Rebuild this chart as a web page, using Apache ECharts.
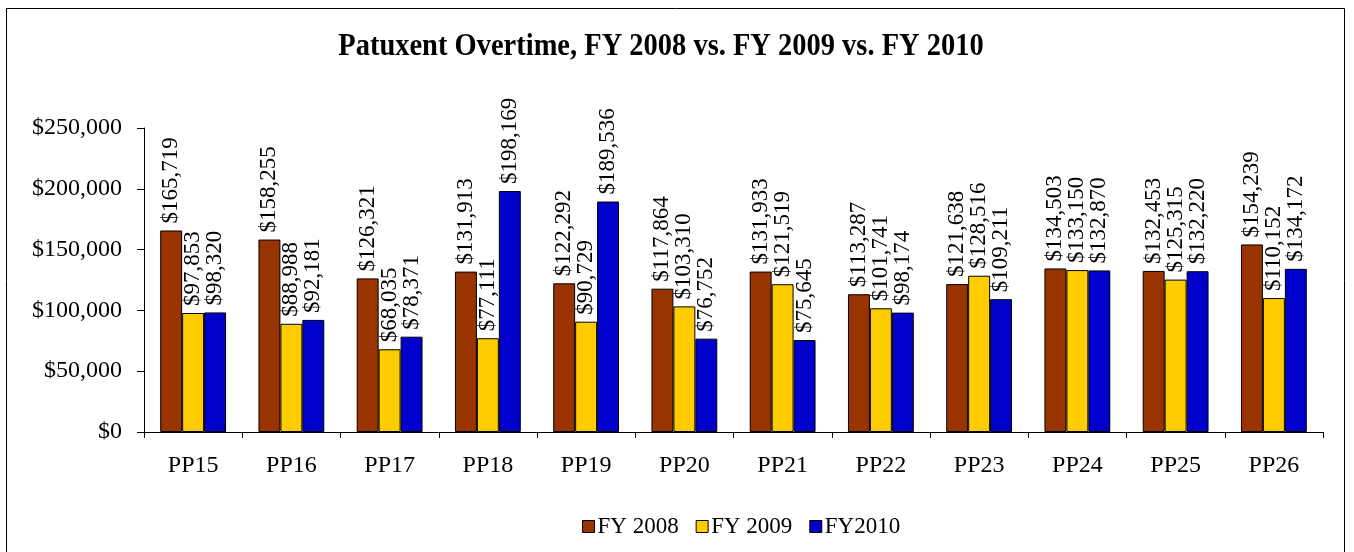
<!DOCTYPE html>
<html>
<head>
<meta charset="utf-8">
<script src="https://cdn.jsdelivr.net/npm/echarts@6/dist/echarts.min.js"></script>
<style>
  html, body { margin: 0; padding: 0; background: #fff; }
  #chart { width: 1354px; height: 552px; }
</style>
</head>
<body>
<div id="chart"></div>
<script>
  var categories = ['PP15', 'PP16', 'PP17', 'PP18', 'PP19', 'PP20', 'PP21', 'PP22', 'PP23', 'PP24', 'PP25', 'PP26']
  var fy2008 = [165719, 158255, 126321, 131913, 122292, 117864, 131933, 113287, 121638, 134503, 132453, 154239]
  var fy2009 = [97853, 88988, 68035, 77111, 90729, 103310, 121519, 101741, 128516, 133150, 125315, 110152]
  var fy2010 = [98320, 92181, 78371, 198169, 189536, 76752, 75645, 98174, 109211, 132870, 132220, 134172]

  var font = '"Liberation Serif", "Times New Roman", serif'

  function money(v) {
    return '$' + Math.round(v).toString().replace(/\B(?=(\d{3})+(?!\d))/g, ',')
  }

  function barSeries(name, data, color) {
    return {
      name: name,
      type: 'bar',
      data: data,
      barGap: 0,
      barCategoryGap: '33%',
      itemStyle: { color: color, borderColor: '#000', borderWidth: 1 },
      label: {
        show: true,
        position: 'top',
        rotate: 90,
        align: 'left',
        verticalAlign: 'middle',
        distance: 7,
        fontFamily: font,
        fontSize: 23,
        color: '#000',
        formatter: function (p) { return money(p.value) }
      }
    }
  }

  var myChart = echarts.init(document.getElementById('chart'))

  var option = {
    animation: false,
    backgroundColor: '#fff',
    textStyle: { fontFamily: font, color: '#000' },
    legend: {
      bottom: 9,
      left: 577,
      itemWidth: 12,
      itemHeight: 12,
      itemGap: 17,
      icon: 'rect',
      textStyle: { fontFamily: font, fontSize: 23, color: '#000', padding: [0, 0, 0, -2] },
      itemStyle: { borderColor: '#000', borderWidth: 1 },
      data: ['FY 2008', 'FY 2009', 'FY2010']
    },
    grid: { left: 144, right: 31, top: 128, bottom: 120 },
    xAxis: {
      type: 'category',
      data: categories,
      axisLine: { lineStyle: { color: '#000' } },
      axisTick: { show: true, length: 6, lineStyle: { color: '#000' } },
      axisLabel: { fontFamily: font, fontSize: 24, color: '#000', margin: 22 }
    },
    yAxis: {
      type: 'value',
      min: 0,
      max: 250000,
      interval: 50000,
      axisLine: { show: true, lineStyle: { color: '#000' } },
      axisTick: { show: true, length: 7, lineStyle: { color: '#000' } },
      splitLine: { show: false },
      axisLabel: {
        fontFamily: font, fontSize: 24, color: '#000', margin: 22,
        formatter: function (v) { return money(v) }
      }
    },
    graphic: [
      {
        type: 'rect',
        shape: { x: 6.5, y: 8.5, width: 1338, height: 560 },
        style: { fill: 'none', stroke: '#000', lineWidth: 1 },
        silent: true
      },
      {
        // title is drawn condensed, like the original
        type: 'text',
        x: 661,
        y: 47,
        scaleX: 0.89,
        silent: true,
        style: {
          text: 'Patuxent Overtime, FY 2008 vs. FY 2009 vs. FY 2010',
          fontFamily: font,
          fontSize: 32,
          fontWeight: 'bold',
          fill: '#000',
          align: 'center',
          verticalAlign: 'middle'
        }
      }
    ],
    series: [
      barSeries('FY 2008', fy2008, '#993300'),
      barSeries('FY 2009', fy2009, '#FFCC00'),
      barSeries('FY2010', fy2010, '#0000CC')
    ]
  }

  myChart.setOption(option)
</script>
</body>
</html>
